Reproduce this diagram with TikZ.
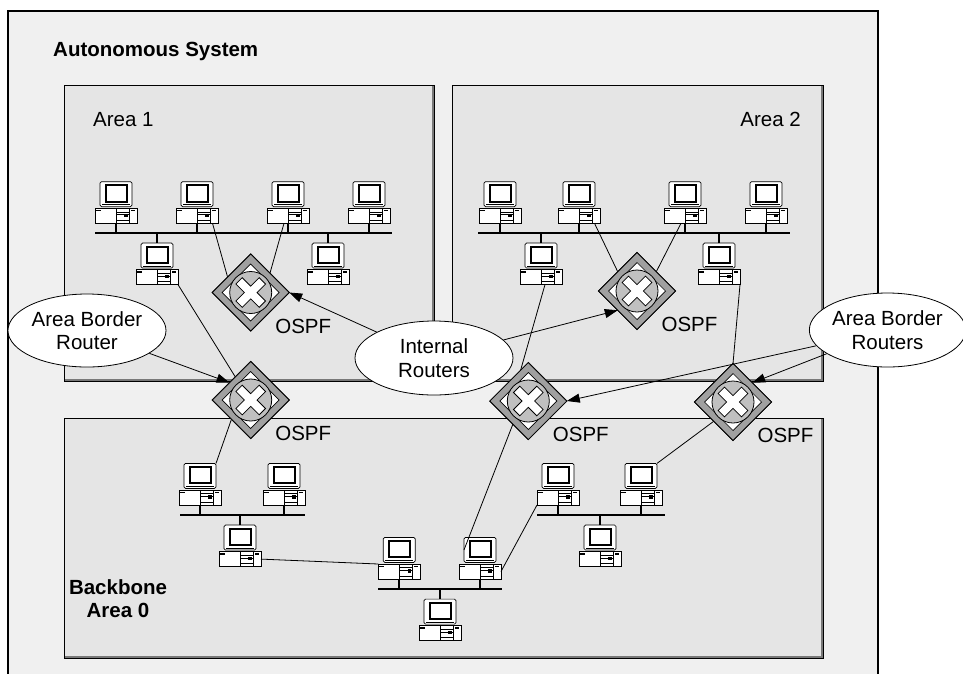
\documentclass[tikz,border=0pt]{standalone}
\usepackage{fontspec}
\setmainfont{Liberation Sans}
\usetikzlibrary{shapes.geometric,arrows.meta,calc}

\definecolor{asfill}{RGB}{240,240,240}
\definecolor{areafill}{RGB}{229,229,229}
\definecolor{rtout}{RGB}{160,160,160}
\definecolor{rtdisc}{RGB}{192,192,192}
\definecolor{edgeshade}{RGB}{120,120,120}

\tikzset{
  txt/.style={font=\fontsize{20.5}{23}\selectfont, inner sep=0},
  heading/.style={font=\bfseries\fontsize{20.5}{23}\selectfont, inner sep=0, align=center},
  zone/.style={fill=areafill, draw=black, line width=0.9},
  callout/.style={ellipse, draw=black, fill=white, line width=0.8, inner sep=0,
    align=center, font=\fontsize{20.5}{23.5}\selectfont},
  link/.style={line width=0.8},
  pointer/.style={line width=0.8, -{Triangle[length=13pt,width=9pt]}},
  bus/.style={line width=2.2},
  router/.style={diamond, aspect=1, minimum width=77pt, minimum height=77pt,
    inner sep=0, outer sep=0, fill=rtout, draw=black, line width=0.8,
    path picture={
      \begin{scope}[shift={(path picture bounding box.center)}]
        \filldraw[fill=white, draw=black, line width=0.7]
          (-28.5,0) -- (0,-28.5) -- (28.5,0) -- (0,28.5) -- cycle;
        \filldraw[fill=rtdisc, draw=black, line width=0.8] (0,0) circle[radius=21pt];
        % white cross, arms along the diagonals
        \filldraw[fill=white, draw=black, line width=0.8]
          (-14.85,8.49) -- (-8.49,14.85) -- (0,6.36) -- (8.49,14.85) -- (14.85,8.49)
          -- (6.36,0) -- (14.85,-8.49) -- (8.49,-14.85) -- (0,-6.36) -- (-8.49,-14.85)
          -- (-14.85,-8.49) -- (-6.36,0) -- cycle;
      \end{scope}}},
  pc/.pic={
    \node[draw=black, fill=white, line width=0.7, minimum width=42pt, minimum height=15pt,
      inner sep=0, outer sep=0] (-base) at (0,-7.5) {};
    \node[draw=black, fill=white, line width=0.7, rounded corners=1.5pt, minimum width=32pt,
      minimum height=25pt, inner sep=0, outer sep=0] (-mon) at (0,-29.1) {};
    \draw[line width=2, fill=white] (-10.5,-38) rectangle (10.5,-21.8);
    \draw[line width=0.5] (-14,-18.6) -- (14,-18.6);
    \draw[line width=0.6] (0,-15) -- (0,0) (13.3,-15) -- (13.3,0);
    \draw[line width=0.6] (0,-11.3) -- (13.3,-11.3) (0,-8.7) -- (13.3,-8.7)
      (0,-3) -- (13.3,-3);
    \fill (8.3,-9.7) rectangle (11.7,-6.3);
    \fill (-20,-13.3) rectangle (-15,-12);
    \fill (15,-13.3) rectangle (18.5,-12);
  }
}

\begin{document}
\begin{tikzpicture}[x=1pt, y=-1pt]
  \useasboundingbox (0,0) rectangle (963,673);
  \begin{scope}
    \clip (0,0) rectangle (963,673);
    % autonomous system frame
    \filldraw[fill=asfill, draw=black, line width=1.1] (8,11) rectangle (878,690);
    % areas
    \filldraw[zone] (64,85) rectangle (434,381);
    \filldraw[zone] (452,85) rectangle (823,381);
    \filldraw[zone] (64,418) rectangle (823,658);
    \draw[edgeshade, line width=1.2] (433,86) -- (433,380) -- (65,380);
    \draw[edgeshade, line width=1.2] (822,86) -- (822,380) -- (453,380);
    \draw[edgeshade, line width=1.2] (822,419) -- (822,657) -- (65,657);
  \end{scope}

  \node[heading, anchor=base west] (astitle) at (53,56) {Autonomous System};
  \node[txt, anchor=base west] (a1title) at (93,126) {Area 1};
  \node[txt, anchor=base east] (a2title) at (801,126) {Area 2};
  \node[heading, anchor=base] (bbtitle) at (118,617) {Backbone\\Area 0};

  % routers (placed first so links can reference them)
  \node[router] (r1) at (250.7,292.5) {};
  \node[router] (r2) at (637,291) {};
  \node[router] (b1) at (250.7,400) {};
  \node[router] (b2) at (528.3,401) {};
  \node[router] (b3) at (733,402) {};

  % workstations, area 1
  \pic (a1a) at (116,223.3) {pc};
  \pic (a1b) at (197,223.3) {pc};
  \pic (a1c) at (288,223.3) {pc};
  \pic (a1d) at (369,223.3) {pc};
  \pic (a1e) at (157,284.6) {pc};
  \pic (a1f) at (328,284.6) {pc};
  % workstations, area 2
  \pic (a2a) at (500,223.3) {pc};
  \pic (a2b) at (579,223.3) {pc};
  \pic (a2c) at (685,223.3) {pc};
  \pic (a2d) at (766,223.3) {pc};
  \pic (a2e) at (541,284.6) {pc};
  \pic (a2f) at (719,284.6) {pc};
  % workstations, backbone
  \pic (b0a) at (200,505) {pc};
  \pic (b0b) at (284,505) {pc};
  \pic (b0c) at (240,566.6) {pc};
  \pic (b0d) at (399.3,579) {pc};
  \pic (b0e) at (480,579) {pc};
  \pic (b0f) at (440,640.7) {pc};
  \pic (b0g) at (558,505) {pc};
  \pic (b0h) at (641,505) {pc};
  \pic (b0i) at (600,566.6) {pc};

  % LAN segments
  \coordinate (busA1l) at (95,232.7);  \coordinate (busA1r) at (392,232.7);
  \coordinate (busA2l) at (478,232.7); \coordinate (busA2r) at (790,232.7);
  \coordinate (busBLl) at (180,515);   \coordinate (busBLr) at (305,515);
  \coordinate (busBCl) at (378.3,589); \coordinate (busBCr) at (501.7,589);
  \coordinate (busBRl) at (537,515);   \coordinate (busBRr) at (665,515);
  \draw[bus] (busA1l) -- (busA1r);
  \draw[bus] (busA2l) -- (busA2r);
  \draw[bus] (busBLl) -- (busBLr);
  \draw[bus] (busBCl) -- (busBCr);
  \draw[bus] (busBRl) -- (busBRr);
  \foreach \p/\b in {a1a/busA1l,a1b/busA1l,a1c/busA1l,a1d/busA1l,
                     a2a/busA2l,a2b/busA2l,a2c/busA2l,a2d/busA2l,
                     b0a/busBLl,b0b/busBLl,b0d/busBCl,b0e/busBCl,b0g/busBRl,b0h/busBRl}
    \draw[bus] (\p-base.south) -- (\p-base.south |- \b);
  \foreach \p/\b in {a1e/busA1l,a1f/busA1l,a2e/busA2l,a2f/busA2l,
                     b0c/busBLl,b0f/busBCl,b0i/busBRl}
    \draw[bus] (\p-mon.north) -- (\p-mon.north |- \b);

  % point-to-point links
  \draw[link] ([xshift=15.5pt]a1b-base.south) -- ($(r1.west)!0.4!(r1.north)$);
  \draw[link] ([xshift=-4pt]a1c-base.south) -- (r1.north east);
  \draw[link] (a1e-base.south east) -- ($(b1.west)!0.6!(b1.north)$);
  \draw[link] ($(b1.west)!0.5!(b1.south)$) -- (b0a-mon.north east);
  \draw[link] ([xshift=15.5pt]a2b-base.south) -- (r2.north west);
  \draw[link] ([xshift=-4pt]a2c-base.south) -- (r2.north east);
  \draw[link] ([xshift=4pt]a2e-base.south) -- ($(b2.north)!0.2!(b2.west)$);
  \draw[link] ([xshift=21pt]a2f-base.south) -- (b3.north);
  \draw[link] ($(b2.west)!0.6!(b2.south)$) -- (b0e-mon.west);
  \draw[link] ($(b3.west)!0.5!(b3.south)$) -- (b0h-mon.north east);
  \draw[link] (b0c-base.east) -- (b0d-base.north west);
  \draw[link] (b0e-base.east) -- (b0g-base.south west);

  % routers drawn again on top of the links
  \foreach \r in {r1,r2,b1,b2,b3}
    \node[router] at (\r) {};

  \foreach \r in {r1,r2,b1,b2,b3}
    \node[txt, anchor=base west] at ([shift={(24.4pt,-40.8pt)}]\r.center) {OSPF};

  % callouts
  \node[callout, minimum width=158pt, minimum height=73pt] (abrL) at (87,330.5) {Area Border\\Router};
  \node[callout, minimum width=158pt, minimum height=74pt] (irt) at (434,358) {Internal\\Routers};
  \node[callout, minimum width=149pt, minimum height=74pt] (abrR) at (887.5,330) {Area Border\\Routers};

  \draw[pointer] (abrL) -- ($(b1.west)!0.45!(b1.north)$);
  \draw[pointer] (irt) -- (r1.east);
  \draw[pointer] (irt) -- ($(r2.west)!0.5!(r2.south)$);
  \draw[pointer] (abrR) -- (b2.east);
  \draw[pointer] (abrR) -- ($(b3.east)!0.5!(b3.north)$);
\end{tikzpicture}
\end{document}
